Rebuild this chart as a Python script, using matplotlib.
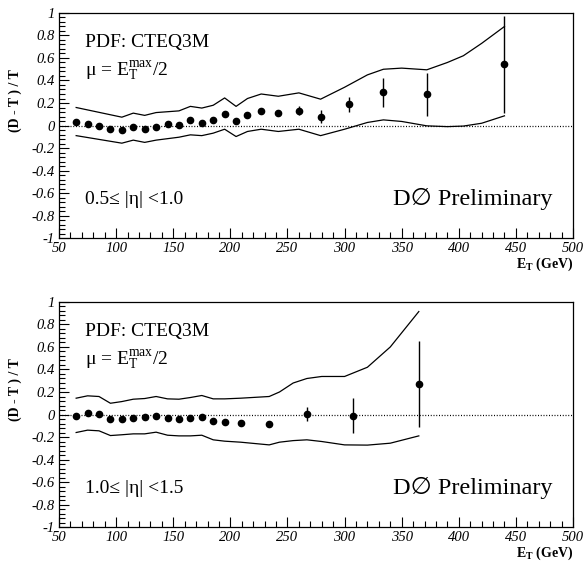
import matplotlib
matplotlib.use("Agg")
import matplotlib.pyplot as plt
from matplotlib.ticker import MultipleLocator

plt.rcParams['font.family'] = ['Liberation Serif', 'DejaVu Serif', 'DejaVu Sans']
plt.rcParams['mathtext.fontset'] = 'custom'
plt.rcParams['mathtext.rm'] = 'Liberation Serif'
plt.rcParams['mathtext.it'] = 'Liberation Serif:italic'
plt.rcParams['mathtext.bf'] = 'Liberation Serif:bold'

# ---- Top panel: 0.5 <= |eta| < 1.0 ----
top_et = [65, 75, 85, 95, 105, 115, 125, 135, 145, 155, 165, 175, 185, 195, 205,
          215, 227, 242, 260, 279, 304, 334, 372, 440]
top_val = [0.03, 0.015, -0.006, -0.027, -0.04, -0.01, -0.03, -0.01, 0.01, 0.003,
           0.045, 0.025, 0.05, 0.105, 0.04, 0.09, 0.13, 0.11, 0.13, 0.08,
           0.187, 0.296, 0.276, 0.545]
top_err = [0, 0, 0, 0, 0, 0, 0, 0, 0, 0, 0, 0, 0, 0, 0, 0, 0.015, 0.015, 0.04, 0.055,
           0.07, 0.13, 0.19, 0.43]

top_band_et = [65, 105, 115, 125, 135, 155, 165, 175, 185, 195, 205, 215, 227, 242,
               260, 279, 300, 320, 334, 350, 372, 390, 404, 420, 440]
top_band_up = [0.16, 0.074, 0.11, 0.09, 0.115, 0.13, 0.17, 0.155, 0.18, 0.245, 0.17,
               0.24, 0.28, 0.26, 0.29, 0.234, 0.34, 0.45, 0.50, 0.51, 0.495, 0.56,
               0.62, 0.73, 0.88]
top_band_lo = [-0.09, -0.157, -0.13, -0.15, -0.13, -0.104, -0.083, -0.09, -0.068,
               -0.033, -0.098, -0.053, -0.033, -0.053, -0.033, -0.09, -0.033, 0.027,
               0.05, 0.036, -0.003, -0.01, -0.005, 0.02, 0.086]

# ---- Bottom panel: 1.0 <= |eta| < 1.5 ----
bot_et = [65, 75, 85, 95, 105, 115, 125, 135, 145, 155, 165, 175, 185, 195, 209,
          234, 267, 307, 365]
bot_val = [-0.015, 0.009, 0.006, -0.044, -0.044, -0.027, -0.02, -0.009, -0.033,
           -0.041, -0.033, -0.024, -0.062, -0.071, -0.074, -0.083, 0.006, -0.012, 0.27]
bot_err = [0, 0, 0, 0, 0, 0, 0, 0, 0, 0, 0, 0, 0, 0, 0, 0, 0.06, 0.155, 0.38]

bot_band_et = [65, 75, 85, 95, 105, 115, 125, 135, 145, 155, 165, 175, 185, 195,
               209, 234, 243, 255, 267, 280, 300, 320, 340, 365]
bot_band_up = [0.145, 0.166, 0.16, 0.10, 0.115, 0.136, 0.142, 0.16, 0.139, 0.136,
               0.151, 0.169, 0.139, 0.139, 0.145, 0.16, 0.2, 0.28, 0.32, 0.338,
               0.338, 0.42, 0.6, 0.915]
bot_band_lo = [-0.16, -0.139, -0.145, -0.187, -0.18, -0.172, -0.172, -0.157, -0.184,
               -0.19, -0.19, -0.184, -0.225, -0.237, -0.246, -0.27, -0.246, -0.232,
               -0.225, -0.24, -0.27, -0.272, -0.255, -0.19]

x_ticks = [50, 100, 150, 200, 250, 300, 350, 400, 450, 500]
x_labels = ['50', '100', '150', '200', '250', '300', '350', '400', '450', '500']
y_ticks = [-1, -0.8, -0.6, -0.4, -0.2, 0, 0.2, 0.4, 0.6, 0.8, 1]
y_labels = ['-1', '-0.8', '-0.6', '-0.4', '-0.2', '0', '0.2', '0.4', '0.6', '0.8', '1']

panels = [
    (top_et, top_val, top_err, top_band_et, top_band_up, top_band_lo,
     "0.5\u2264 |\u03b7| <1.0"),
    (bot_et, bot_val, bot_err, bot_band_et, bot_band_up, bot_band_lo,
     "1.0\u2264 |\u03b7| <1.5"),
]

fig = plt.figure(figsize=(5.85, 5.67), dpi=100)
rects = [[0.1009, 0.5802, 0.8786, 0.3969], [0.1009, 0.0705, 0.8786, 0.3969]]

for rect, (et, val, err, bet, bup, blo, eta_txt) in zip(rects, panels):
    ax = fig.add_axes(rect)
    ax.set_xlim(50, 500)
    ax.set_ylim(-1, 1)
    ax.axhline(0, color='black', lw=0.9, ls=(0, (0.8, 1.4)))
    ax.plot(bet, bup, color='black', lw=0.9)
    ax.plot(bet, blo, color='black', lw=0.9)
    ax.errorbar(et, val, yerr=err, fmt='o', color='black', ms=4.5, elinewidth=1.0,
                capsize=0)
    ax.xaxis.set_minor_locator(MultipleLocator(10))
    ax.yaxis.set_minor_locator(MultipleLocator(0.04))
    ax.tick_params(which='both', direction='in', top=False, right=False)
    ax.tick_params(which='major', length=7, width=0.8)
    ax.tick_params(which='minor', length=4, width=0.8)
    ax.tick_params(axis='both', labelsize=10.5, pad=3)
    ax.set_xticks(x_ticks)
    ax.set_xticklabels(x_labels)
    ax.set_yticks(y_ticks)
    ax.set_yticklabels(y_labels)
    for lab in ax.get_xticklabels() + ax.get_yticklabels():
        lab.set_fontstyle('italic')
        lab.set_family('Liberation Serif')
    for s in ax.spines.values():
        s.set_linewidth(0.9)
    ax.set_ylabel("(D - T ) / T", fontsize=10, fontweight='bold', va='center')
    ax.yaxis.set_label_coords(-0.085, 0.61)
    ax.text(72.5, 0.74, "PDF: CTEQ3M", fontsize=14, va='center', ha='left')
    ax.text(72.5, 0.48, "\u03bc = E$_{\\rm T}^{\\rm max}$/2", fontsize=14,
            va='center', ha='left')
    ax.text(72.5, -0.66, eta_txt, fontsize=14, va='center', ha='left')
    ax.text(482, -0.65, "D\u2205 Preliminary", fontsize=17.5, va='center', ha='right',
            family=['Liberation Serif', 'DejaVu Sans'])
    ax.text(1.0, -0.115, r"E$_{\mathbf{T}}$ (GeV)", transform=ax.transAxes,
            fontsize=10, fontweight='bold', ha='right', va='center')

fig.savefig("out.png", dpi=100)
